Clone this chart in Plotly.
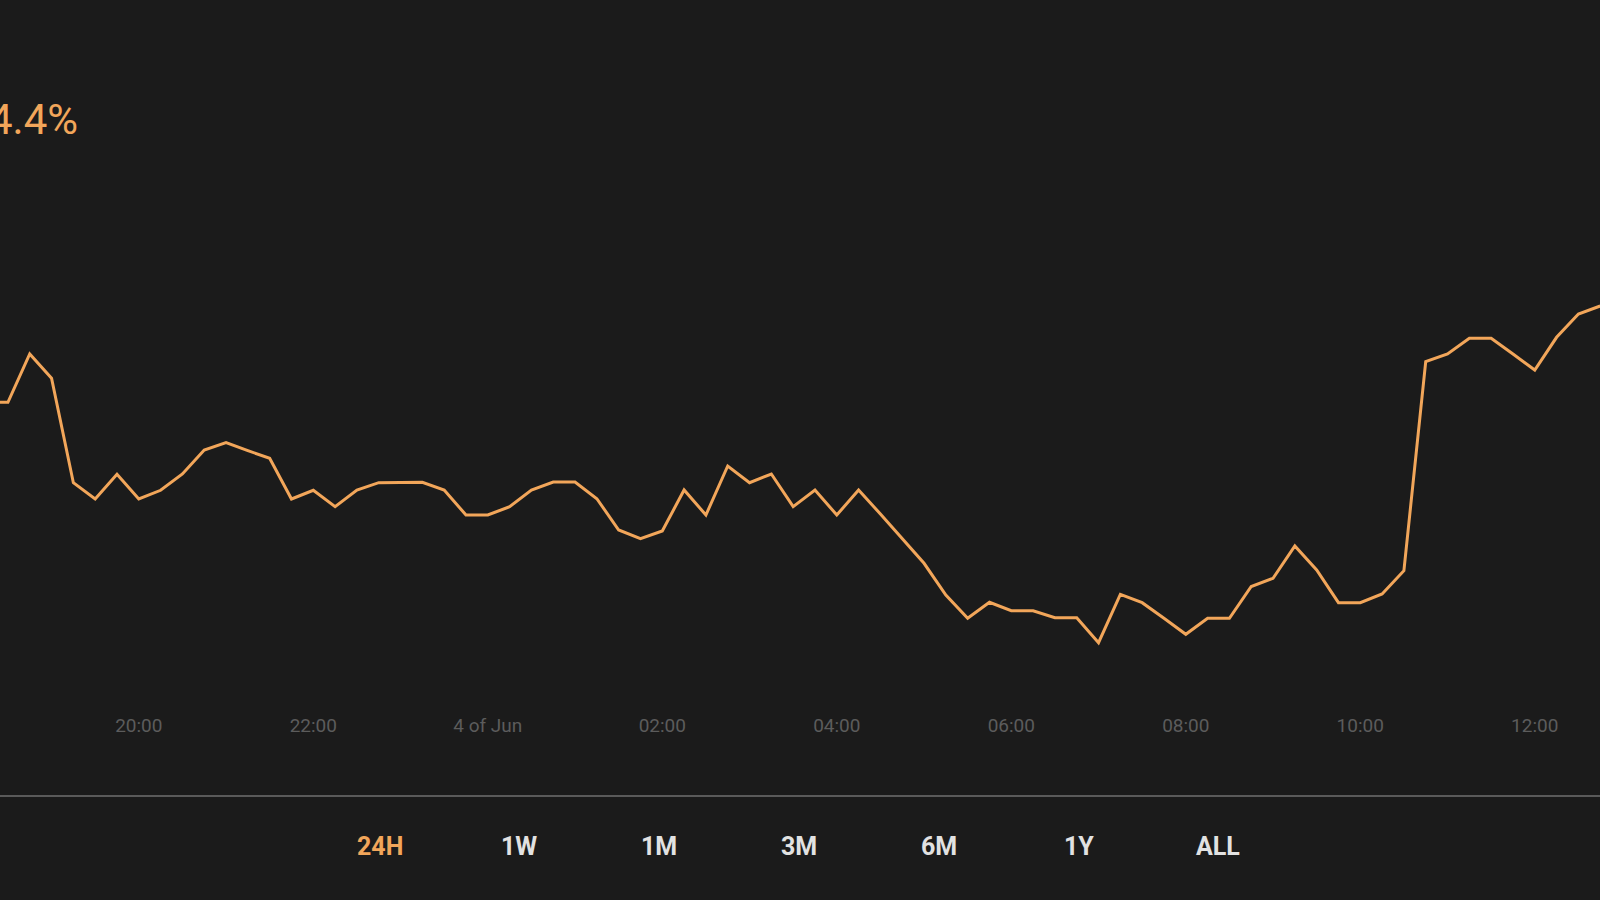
import plotly.graph_objects as go
import pandas as pd

# ---- data ----
start_time = "2023-06-03 18:15"
step_minutes = 15
values = [
    30.97, 30.97, 35.80, 33.37, 22.93, 21.30, 23.77, 21.30, 22.17, 23.80,
    26.20, 26.93, 26.13, 25.37, 21.30, 22.17, 20.53, 22.20, 22.93, 22.97,
    22.97, 22.20, 19.70, 19.70, 20.53, 22.20, 23.00, 23.00, 21.33, 18.20,
    17.33, 18.10, 22.20, 19.70, 24.60, 22.93, 23.80, 20.53, 22.20, 19.70,
    22.20, 19.80, 17.37, 14.87, 11.70, 9.37, 10.97, 10.13, 10.13, 9.43,
    9.43, 6.93, 11.77, 10.93, 9.37, 7.77, 9.37, 9.37, 12.55, 13.37,
    16.60, 14.20, 10.93, 10.93, 11.80, 14.13, 35.03, 35.80, 37.37, 37.37,
    35.80, 34.20, 37.47, 39.80, 40.60,
]
tick_vals = ["2023-06-03 20:00", "2023-06-03 22:00", "2023-06-04 00:00",
             "2023-06-04 02:00", "2023-06-04 04:00", "2023-06-04 06:00",
             "2023-06-04 08:00", "2023-06-04 10:00", "2023-06-04 12:00"]
tick_text = ["20:00", "22:00", "4 of Jun", "02:00", "04:00", "06:00",
             "08:00", "10:00", "12:00"]
x_range = ["2023-06-03 18:24:33", "2023-06-04 12:44:51"]
change_label = "4.4%"
periods = ["24H", "1W", "1M", "3M", "6M", "1Y", "ALL"]
active_period = "24H"

times = pd.date_range(start_time, periods=len(values), freq=f"{step_minutes}min")

BG = "#1b1b1b"
ORANGE = "#f2a65a"
W, H = 1600, 900
PLOT_BOTTOM = 712  # px from top

def py(px):
    return (PLOT_BOTTOM - px) / PLOT_BOTTOM

fig = go.Figure()
fig.add_trace(go.Scatter(
    x=times, y=values, mode="lines",
    line=dict(color=ORANGE, width=3), hoverinfo="skip", showlegend=False,
))

annotations = [dict(
    text=change_label, xref="paper", yref="paper",
    x=79.6 / W, y=py(120), xanchor="right", yanchor="middle",
    showarrow=False, font=dict(family="Roboto", size=42, color=ORANGE),
)]
for i, p in enumerate(periods):
    cx = 379.6 + i * 139.8
    annotations.append(dict(
        text=f"<b>{p}</b>", xref="paper", yref="paper",
        x=cx / W, y=py(847), xanchor="center", yanchor="middle",
        showarrow=False,
        font=dict(family="Roboto", size=25,
                  color=ORANGE if p == active_period else "#e2e2e2"),
    ))

fig.update_layout(
    width=W, height=H,
    margin=dict(l=0, r=0, t=0, b=H - PLOT_BOTTOM, pad=0),
    paper_bgcolor=BG, plot_bgcolor=BG,
    showlegend=False,
    xaxis=dict(range=x_range, tickvals=tick_vals, ticktext=tick_text,
               showgrid=False, zeroline=False, showline=False, ticks="",
               tickfont=dict(family="Roboto", size=19, color="#5c5c5c"),
               fixedrange=True),
    yaxis=dict(range=[0, PLOT_BOTTOM / 10], showgrid=False, zeroline=False,
               showline=False, showticklabels=False, fixedrange=True),
    annotations=annotations,
    shapes=[dict(type="line", xref="paper", yref="paper",
                 x0=0, x1=1, y0=py(796), y1=py(796),
                 line=dict(color="#5a5a5a", width=2))],
)

fig.write_html("out.html", config={"displayModeBar": False})
